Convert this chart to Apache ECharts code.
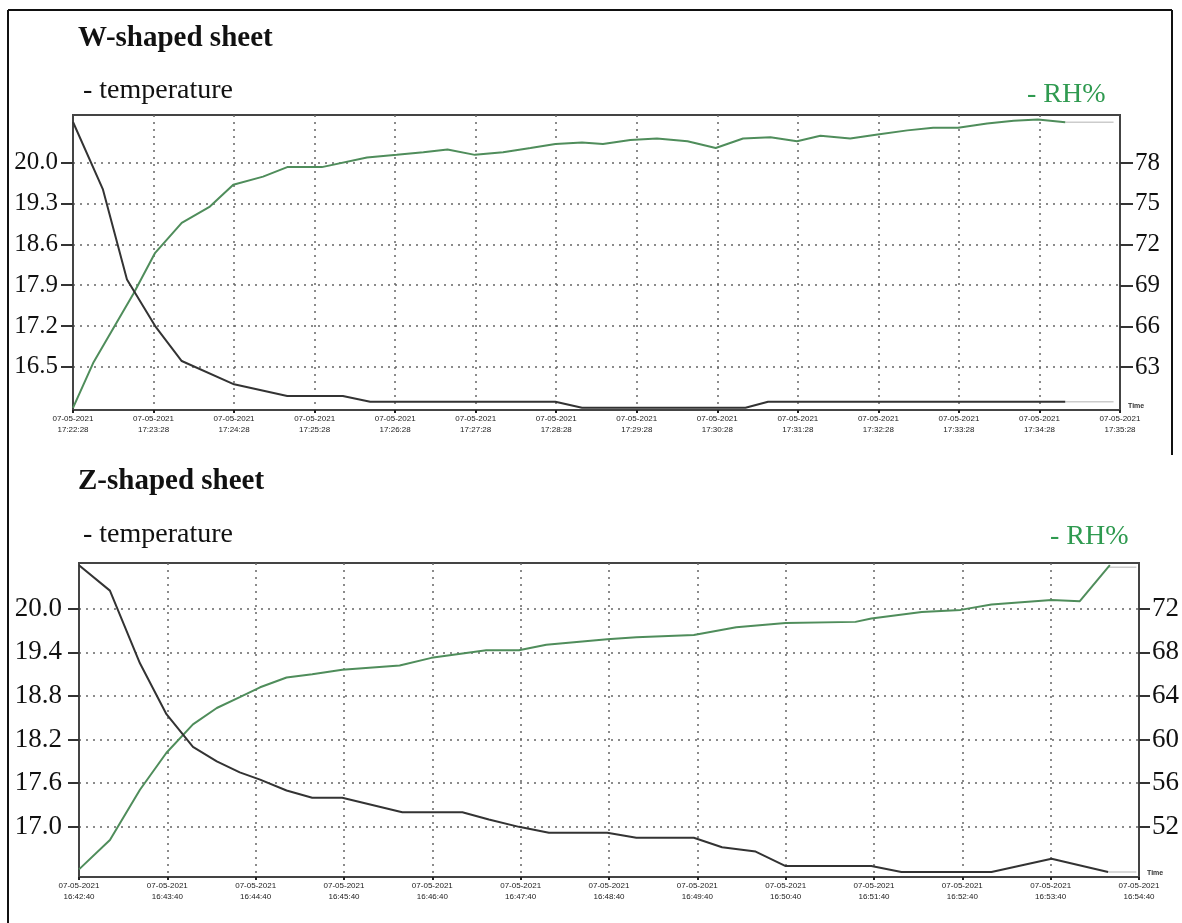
<!DOCTYPE html>
<html>
<head>
<meta charset="utf-8">
<script src="https://cdn.jsdelivr.net/npm/echarts@6/dist/echarts.min.js"></script>
<style>
  html, body { margin: 0; padding: 0; background: #fff; }
  #chart { width: 1182px; height: 923px; }
</style>
</head>
<body>
<div id="chart"></div>
<script>
// logger date + time labels (one per minute)
const logDate = '07-05-2021'
const wTimes = ['17:22:28', '17:23:28', '17:24:28', '17:25:28', '17:26:28', '17:27:28', '17:28:28',
  '17:29:28', '17:30:28', '17:31:28', '17:32:28', '17:33:28', '17:34:28', '17:35:28']
const zTimes = ['16:42:40', '16:43:40', '16:44:40', '16:45:40', '16:46:40', '16:47:40', '16:48:40',
  '16:49:40', '16:50:40', '16:51:40', '16:52:40', '16:53:40', '16:54:40']

// W-shaped sheet (minutes from start)
const wTempMin = [0, 0.37, 0.67, 1.02, 1.35, 2.0, 2.66, 3.35, 3.69, 5.99, 6.32, 8.35, 8.63, 12.32]
const wTempVal = [20.7, 19.55, 18.0, 17.2, 16.6, 16.2, 16.0, 16.0, 15.9, 15.9, 15.8, 15.8, 15.9, 15.9]
const wRhMin = [0, 0.25, 0.75, 1.02, 1.35, 1.70, 1.99, 2.36, 2.66, 3.09, 3.65, 4.02, 4.35, 4.65, 4.99,
  5.34, 5.68, 5.99, 6.32, 6.58, 6.92, 7.25, 7.63, 7.98, 8.32, 8.66, 8.99, 9.28, 9.65, 9.99, 10.36,
  10.68, 10.99, 11.35, 11.68, 11.98, 12.32]
const wRhVal = [60.0, 63.3, 68.4, 71.4, 73.6, 74.8, 76.4, 77.0, 77.7, 77.7, 78.4, 78.6, 78.8, 79.0, 78.6,
  78.8, 79.1, 79.4, 79.5, 79.4, 79.7, 79.8, 79.6, 79.1, 79.8, 79.9, 79.6, 80.0, 79.8, 80.1, 80.4,
  80.6, 80.6, 80.9, 81.1, 81.2, 81.0]
const wTailMin = [12.32, 12.92]
const wTempTail = [15.9, 15.9]
const wRhTail = [81.0, 81.0]

// Z-shaped sheet
const zTempMin = [0, 0.35, 0.69, 0.99, 1.29, 1.56, 1.82, 2.05, 2.35, 2.64, 2.98, 3.66, 4.34, 4.64, 4.98,
  5.32, 5.98, 6.31, 6.96, 7.28, 7.66, 8.0, 8.97, 9.31, 10.33, 11.01, 11.65]
const zTempVal = [20.6, 20.25, 19.25, 18.55, 18.1, 17.9, 17.75, 17.65, 17.5, 17.4, 17.4, 17.2, 17.2, 17.1, 17.0,
  16.92, 16.92, 16.85, 16.85, 16.72, 16.66, 16.46, 16.46, 16.38, 16.38, 16.56, 16.38]
const zRhMin = [0, 0.35, 0.69, 0.99, 1.29, 1.56, 1.82, 2.05, 2.35, 2.64, 2.98, 3.63, 3.99, 4.61, 4.98,
  5.29, 5.98, 6.31, 6.96, 7.44, 8.0, 8.79, 8.97, 9.54, 9.98, 10.33, 11.01, 11.33, 11.67]
const zRhVal = [48.1, 50.8, 55.4, 58.8, 61.4, 62.9, 63.9, 64.8, 65.7, 66.0, 66.4, 66.8, 67.5, 68.2, 68.2,
  68.7, 69.2, 69.4, 69.6, 70.3, 70.7, 70.8, 71.1, 71.7, 71.9, 72.4, 72.8, 72.7, 76.0]
const zTailMin = [11.65, 11.97]
const zTempTail = [16.38, 16.38]
const zRhTail = [75.8, 75.8]

// y tick labels
const wTempTicks = [16.5, 17.2, 17.9, 18.6, 19.3, 20.0]
const wRhTicks = [63, 66, 69, 72, 75, 78]
const zTempTicks = [17.0, 17.6, 18.2, 18.8, 19.4, 20.0]
const zRhTicks = [52, 56, 60, 64, 68, 72]

const pairs = (xs, ys) => xs.map((x, i) => [x, ys[i]])

const serif = 'Liberation Serif'
const dotted = { type: [2, 5], color: '#666', width: 1.5 }
const axisColor = '#444'
const tempColor = '#333333'
const rhColor = '#4f8d5b'
const tailColor = '#cccccc'

function xAxisFor(grid, max, times) {
  return {
    gridIndex: grid,
    type: 'value',
    min: 0,
    max: max,
    interval: 1,
    name: 'Time',
    nameLocation: 'end',
    nameGap: 8,
    nameTextStyle: { fontSize: 7, fontWeight: 'bold', color: '#333', verticalAlign: 'bottom' },
    axisLine: { lineStyle: { color: axisColor, width: 2 } },
    axisTick: { length: 3, lineStyle: { color: '#222', width: 2 } },
    axisLabel: {
      formatter: v => logDate + '\n' + times[Math.round(v)],
      fontFamily: 'Liberation Sans',
      fontSize: 8,
      lineHeight: 11,
      color: '#222',
      margin: 3
    },
    splitLine: { show: true, lineStyle: dotted }
  }
}

function yAxisFor(grid, pos, min, max, ticks, digits, fontSize, tickLen, margin, split) {
  return {
    gridIndex: grid,
    type: 'value',
    position: pos,
    min: min,
    max: max,
    axisLine: { show: true, lineStyle: { color: axisColor, width: 2 } },
    axisTick: { show: true, customValues: ticks, length: tickLen, lineStyle: { color: '#333', width: 2 } },
    axisLabel: {
      customValues: ticks,
      formatter: v => v.toFixed(digits),
      fontFamily: serif,
      fontSize: fontSize,
      color: '#111',
      margin: margin
    },
    splitLine: { show: split, lineStyle: dotted }
  }
}

function line(xi, yi, data, color, width) {
  return {
    type: 'line',
    xAxisIndex: xi,
    yAxisIndex: yi,
    data: data,
    showSymbol: false,
    lineStyle: { color: color, width: width },
    itemStyle: { color: color },
    z: color === tailColor ? 2 : 3
  }
}

const chart = echarts.init(document.getElementById('chart'), null, { renderer: 'canvas' })

chart.setOption({
  animation: false,
  backgroundColor: '#fff',
  title: [
    { text: 'W-shaped sheet', left: 73, top: 19, textStyle: { fontFamily: serif, fontSize: 29, fontWeight: 'bold', color: '#111' } },
    { text: '- temperature', left: 78, top: 72, textStyle: { fontFamily: serif, fontSize: 28, fontWeight: 'normal', color: '#111' } },
    { text: '- RH%', left: 1022, top: 76, textStyle: { fontFamily: serif, fontSize: 28, fontWeight: 'normal', color: '#2f9a50' } },
    { text: 'Z-shaped sheet', left: 73, top: 462, textStyle: { fontFamily: serif, fontSize: 29, fontWeight: 'bold', color: '#111' } },
    { text: '- temperature', left: 78, top: 516, textStyle: { fontFamily: serif, fontSize: 28, fontWeight: 'normal', color: '#111' } },
    { text: '- RH%', left: 1045, top: 518, textStyle: { fontFamily: serif, fontSize: 28, fontWeight: 'normal', color: '#2f9a50' } }
  ],
  grid: [
    { left: 73, top: 115, width: 1047, height: 295, show: true, borderColor: axisColor, borderWidth: 2 },
    { left: 79, top: 563, width: 1062, height: 314, show: true, borderColor: axisColor, borderWidth: 2 }
  ],
  xAxis: [
    xAxisFor(0, 13, wTimes),
    xAxisFor(1, 12, zTimes)
  ],
  yAxis: [
    yAxisFor(0, 'left', 15.76, 20.82, wTempTicks, 1, 25, 12, 15, true),
    yAxisFor(0, 'right', 59.85, 81.53, wRhTicks, 0, 25, 13, 15, false),
    yAxisFor(1, 'left', 16.31, 20.63, zTempTicks, 1, 27, 11, 17, true),
    yAxisFor(1, 'right', 47.4, 76.2, zRhTicks, 0, 27, 11, 13, false)
  ],
  series: [
    line(0, 1, pairs(wTailMin, wRhTail), tailColor, 1.5),
    line(0, 0, pairs(wTailMin, wTempTail), tailColor, 1.5),
    line(0, 1, pairs(wRhMin, wRhVal), rhColor, 2),
    line(0, 0, pairs(wTempMin, wTempVal), tempColor, 2),
    line(1, 3, pairs(zTailMin, zRhTail), tailColor, 1.5),
    line(1, 2, pairs(zTailMin, zTempTail), tailColor, 1.5),
    line(1, 3, pairs(zRhMin, zRhVal), rhColor, 2),
    line(1, 2, pairs(zTempMin, zTempVal), tempColor, 2)
  ],
  graphic: [
    { type: 'line', shape: { x1: 8, y1: 10, x2: 8, y2: 923 }, style: { stroke: '#111', lineWidth: 2 } },
    { type: 'line', shape: { x1: 8, y1: 10, x2: 1172, y2: 10 }, style: { stroke: '#111', lineWidth: 2 } },
    { type: 'line', shape: { x1: 1172, y1: 10, x2: 1172, y2: 455 }, style: { stroke: '#111', lineWidth: 2 } }
  ]
})
</script>
</body>
</html>
